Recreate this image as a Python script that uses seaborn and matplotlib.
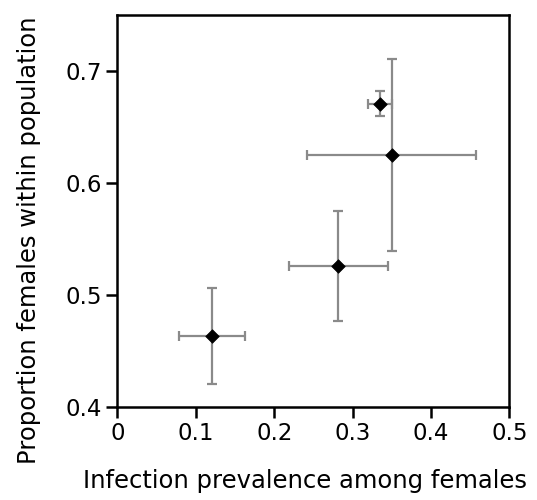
import matplotlib
matplotlib.use("Agg")
import matplotlib.pyplot as plt
import seaborn as sns
import pandas as pd

prevalence = [0.121, 0.282, 0.350, 0.335]
prevalence_err = [0.042, 0.063, 0.108, 0.015]
prop_females = [0.463, 0.526, 0.625, 0.671]
prop_females_err = [0.043, 0.049, 0.086, 0.011]
x_ticks = [0, 0.1, 0.2, 0.3, 0.4, 0.5]
x_tick_labels = ["0", "0.1", "0.2", "0.3", "0.4", "0.5"]
y_ticks = [0.4, 0.5, 0.6, 0.7]
y_tick_labels = ["0.4", "0.5", "0.6", "0.7"]

df = pd.DataFrame({"x": prevalence, "y": prop_females,
                   "xerr": prevalence_err, "yerr": prop_females_err})

sns.set_style("ticks")
plt.rcParams["font.family"] = ["DejaVu Sans"]
plt.rcParams["text.color"] = "black"
plt.rcParams["axes.labelcolor"] = "black"

fig = plt.figure(figsize=(5.37, 5.0), dpi=100)
ax = fig.add_axes([0.2188, 0.1866, 0.7296, 0.7828])

ax.errorbar(df["x"], df["y"], xerr=df["xerr"], yerr=df["yerr"], fmt="none",
            ecolor="#8a8a8a", elinewidth=1.6, capsize=3.8, capthick=1.6, zorder=2)
sns.scatterplot(data=df, x="x", y="y", marker="D", s=48, color="black",
                edgecolor="black", linewidth=0.5, ax=ax, zorder=3)

ax.set_xlim(0, 0.5)
ax.set_ylim(0.4, 0.75)
ax.set_xticks(x_ticks)
ax.set_xticklabels(x_tick_labels)
ax.set_yticks(y_ticks)
ax.set_yticklabels(y_tick_labels)
for s in ax.spines.values():
    s.set_linewidth(1.8)
    s.set_color("black")
ax.tick_params(axis="both", direction="out", length=8, width=1.8, labelsize=16.5,
               colors="black", pad=3)
ax.tick_params(top=False, right=False)
ax.set_xlabel("Infection prevalence among females", fontsize=17.5)
ax.set_ylabel("Proportion females within population", fontsize=17.5)
ax.xaxis.set_label_coords(0.479, -0.158)
ax.yaxis.set_label_coords(-0.195, 0.426)

fig.savefig("out.png", dpi=100)
